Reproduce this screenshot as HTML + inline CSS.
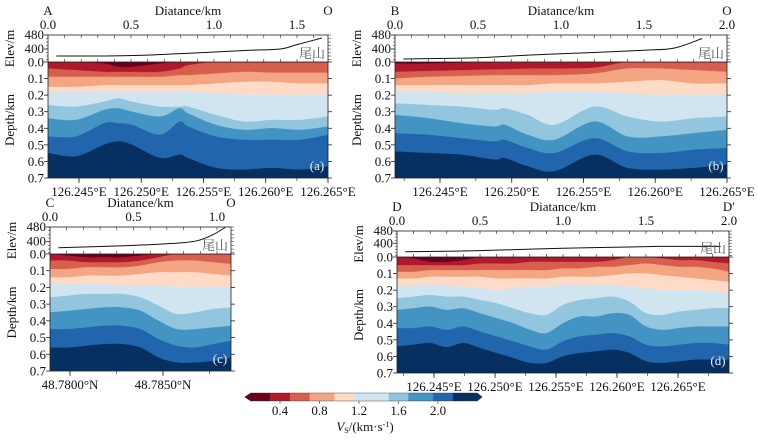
<!DOCTYPE html>
<html><head><meta charset="utf-8">
<style>
html,body{margin:0;padding:0;background:#fff;}
svg{display:block;}
svg text{font-family:"Liberation Serif","Noto Serif CJK SC",serif;}
</style></head>
<body>
<svg id="fig" width="757" height="440" viewBox="0 0 757 440" xmlns="http://www.w3.org/2000/svg" font-family="'Liberation Serif', 'Noto Serif CJK SC', serif"></svg>
<script>
// ---- colour levels (Vs km/s) ----
const levelBounds = [0.1,0.3,0.5,0.7,0.95,1.15,1.5,1.7,1.95,2.15,2.4];
const levelColors = ["#67001f","#b2182b","#d6604d","#f4a582","#fddbc7","#d1e5f0","#92c5de","#4393c3","#2166ac","#053061"];
const cbTicks = [0.4,0.8,1.2,1.6,2.0];

// ---- panel (a) ----
const aXs = [0,.1,.2,.25,.3,.4,.47,.5,.6,.7,.8,.9,1];
const aB1 = [0,0,.01,.03,.03,.01,0,0,0,0,0,0,0];
const aB2 = [.04,.05,.06,.06,.06,.06,.04,.02,0,0,0,0,0];
const aB3 = [.09,.09,.09,.09,.09,.09,.08,.08,.07,.06,.065,.065,.065];
const aB4 = [.15,.15,.14,.14,.14,.14,.14,.14,.13,.12,.12,.13,.13];
const aB5 = [.18,.18,.18,.18,.18,.18,.18,.18,.19,.2,.2,.2,.2];
const aB6 = [.26,.27,.24,.22,.24,.27,.27,.27,.32,.36,.35,.35,.33];
const aB7 = [.34,.35,.29,.28,.30,.33,.28,.31,.38,.41,.40,.41,.39];
const aB8 = [.45,.45,.37,.37,.38,.44,.36,.39,.45,.47,.47,.47,.44];
const aB9 = [.55,.57,.5,.48,.5,.58,.56,.58,.64,.65,.64,.65,.63];
const aElevDist = [0.05,0.3,0.6,0.9,1.2,1.4,1.5,1.65];
const aElev = [360,360,365,378,392,400,425,463];

// ---- panel (b) ----
const bXs = [0,.1,.2,.3,.33,.4,.48,.6,.7,.8,.9,1];
const bB1 = [.01,.01,.005,0,0,0,0,0,0,0,0,0];
const bB2 = [.06,.055,.05,.045,.045,.04,.04,.035,0,0,0,0];
const bB3 = [.1,.09,.085,.08,.08,.08,.08,.07,.04,.04,.05,.06];
const bB4 = [.14,.14,.14,.14,.14,.14,.13,.13,.12,.11,.13,.13];
const bB5 = [.18,.18,.19,.19,.19,.19,.18,.18,.19,.2,.2,.2];
const bB6 = [.25,.26,.27,.29,.28,.32,.38,.27,.33,.36,.34,.33];
const bB7 = [.32,.34,.37,.39,.38,.44,.47,.36,.45,.45,.43,.41];
const bB8 = [.43,.44,.46,.48,.47,.52,.55,.46,.54,.55,.53,.52];
const bB9 = [.54,.55,.56,.59,.58,.63,.66,.56,.64,.65,.64,.62];
const bElevDist = [0.05,0.5,0.8,1.2,1.5,1.68,1.85];
const bElev = [343,350,365,380,393,405,460];

// ---- panel (c) ----
const cXs = [0,.1,.2,.3,.4,.5,.6,.7,.8,.9,1];
const cB1 = [0,.01,.02,.02,.02,.01,0,0,0,0,0];
const cB2 = [.04,.04,.05,.05,.05,.04,.02,0,0,0,0];
const cB3 = [.09,.09,.08,.08,.08,.07,.05,.04,.04,.05,.06];
const cB4 = [.14,.14,.13,.13,.13,.12,.11,.11,.11,.12,.13];
const cB5 = [.18,.18,.18,.18,.19,.19,.19,.2,.2,.2,.2];
const cB6 = [.26,.25,.24,.24,.24,.26,.31,.36,.35,.33,.32];
const cB7 = [.35,.34,.33,.32,.32,.34,.40,.45,.45,.44,.43];
const cB8 = [.45,.45,.44,.43,.43,.45,.51,.55,.56,.54,.52];
const cB9 = [.56,.56,.55,.54,.54,.56,.62,.65,.65,.64,.62];
const cElevDist = [0.05,0.5,0.8,0.9,0.98,1.05];
const cElev = [367,380,395,410,440,478];

// ---- panel (d) ----
const dXs = [0,.05,.1,.15,.2,.25,.3,.35,.4,.45,.5,.55,.6,.65,.7,.75,.8,.85,.9,.95,1];
const dB1 = [0,.01,.03,.03,.02,0,0,0,0,0,0,0,0,0,0,0,0,0,0,0,0];
const dB2 = [.05,.05,.05,.05,.05,.04,.04,.04,.03,.03,.03,.03,.03,.02,0,0,.01,.02,.02,.03,.04];
const dB3 = [.09,.09,.08,.08,.08,.08,.08,.08,.08,.08,.07,.07,.06,.06,.05,.04,.05,.06,.06,.07,.09];
const dB4 = [.13,.13,.12,.12,.12,.12,.13,.13,.13,.13,.12,.12,.12,.11,.1,.1,.11,.12,.13,.14,.15];
const dB5 = [.18,.17,.17,.17,.18,.19,.2,.19,.18,.18,.17,.17,.17,.17,.18,.19,.2,.2,.2,.21,.22];
const dB6 = [.25,.24,.23,.24,.24,.26,.28,.31,.34,.35,.29,.26,.25,.24,.27,.34,.35,.33,.32,.31,.31];
const dB7 = [.32,.31,.30,.32,.31,.34,.37,.40,.44,.46,.40,.36,.36,.34,.35,.42,.44,.43,.42,.42,.42];
const dB8 = [.43,.43,.42,.44,.42,.45,.48,.51,.54,.56,.51,.48,.47,.46,.48,.53,.54,.53,.52,.52,.53];
const dB9 = [.54,.53,.52,.545,.52,.55,.58,.61,.64,.64,.6,.58,.57,.56,.58,.63,.64,.63,.62,.62,.62];
const dElevDist = [0.05,0.5,1.0,1.5,1.6,1.95];
const dElev = [345,352,368,378,380,380];

const lonTicks = [126.245,126.250,126.255,126.260,126.265];
const latTicks = [48.780,48.785];
const depthTicks = [0,0.1,0.2,0.3,0.4,0.5,0.6,0.7];

const NS="http://www.w3.org/2000/svg";
const svg=document.getElementById('fig');
const FF="'Liberation Serif', 'Noto Serif CJK SC', serif";
function mk(tag,attrs,parent){const e=document.createElementNS(NS,tag);for(const k in attrs)e.setAttribute(k,attrs[k]);(parent||svg).appendChild(e);return e;}
function txt(s,x,y,size,anchor,parent,fill){const t=mk('text',{x:x,y:y,'font-size':size,'font-family':FF,'text-anchor':anchor||'middle',fill:fill||'#111'},parent);t.textContent=s;return t;}

function smoothPath(pts){
  let d="M"+pts[0][0]+","+pts[0][1];
  for(let i=0;i<pts.length-1;i++){
    const p0=pts[Math.max(0,i-1)],p1=pts[i],p2=pts[i+1],p3=pts[Math.min(pts.length-1,i+2)];
    const c1=[p1[0]+(p2[0]-p0[0])/6,p1[1]+(p2[1]-p0[1])/6];
    const c2=[p2[0]-(p3[0]-p1[0])/6,p2[1]-(p3[1]-p1[1])/6];
    d+=" C"+c1[0]+","+c1[1]+" "+c2[0]+","+c2[1]+" "+p2[0]+","+p2[1];
  }
  return d;
}

const panels=[
 {id:'a',x0:48,x1:328,eTop:35,e400:49,mTop:62,mBot:178,dMax:1.687,dTicks:[0,0.5,1.0,1.5],L:'A',R:'O',xs:aXs,bs:[aB1,aB2,aB3,aB4,aB5,aB6,aB7,aB8,aB9],ed:aElevDist,ev:aElev,geo:lonTicks,g0:126.245,gx0:79,g1:126.265,gx1:328,suf:'°E',dec:3},
 {id:'b',x0:395,x1:727,eTop:35,e400:49,mTop:62,mBot:178,dMax:2.0,dTicks:[0,0.5,1.0,1.5,2.0],L:'B',R:'O',xs:bXs,bs:[bB1,bB2,bB3,bB4,bB5,bB6,bB7,bB8,bB9],ed:bElevDist,ev:bElev,geo:lonTicks,g0:126.245,gx0:440,g1:126.265,gx1:727,suf:'°E',dec:3},
 {id:'c',x0:50,x1:231,eTop:227,e400:241.7,mTop:254,mBot:371,dMax:1.084,dTicks:[0,0.5,1.0],L:'C',R:'O',xs:cXs,bs:[cB1,cB2,cB3,cB4,cB5,cB6,cB7,cB8,cB9],ed:cElevDist,ev:cElev,geo:latTicks,g0:48.780,gx0:70,g1:48.785,gx1:163,suf:'°N',dec:4},
 {id:'d',x0:397,x1:729,eTop:231,e400:243.3,mTop:257,mBot:373,dMax:2.0,dTicks:[0,0.5,1.0,1.5,2.0],L:'D',R:'D′',xs:dXs,bs:[dB1,dB2,dB3,dB4,dB5,dB6,dB7,dB8,dB9],ed:dElevDist,ev:dElev,geo:lonTicks,g0:126.245,gx0:434,g1:126.265,gx1:678,suf:'°E',dec:3}
];

panels.forEach(p=>{
  const g=mk('g',{});
  
  
  const W=p.x1-p.x0;
  const fx=f=>p.x0+f*W;
  const dy=d=>p.mTop+Math.max(0,Math.min(0.7,d))/0.7*(p.mBot-p.mTop);
  const distX=k=>p.x0+k/p.dMax*W;
  const ey=e=>p.eTop+(480-e)*(p.e400-p.eTop)/80;
  const geoX=v=>p.gx0+(v-p.g0)/(p.g1-p.g0)*(p.gx1-p.gx0);

  const cp=mk('clipPath',{id:'clip-'+p.id},g);
  mk('rect',{x:p.x0,y:p.mTop,width:W,height:p.mBot-p.mTop},cp);
  const mg=mk('g',{'clip-path':'url(#clip-'+p.id+')'},g);
  
  
  const bg=mk('rect',{x:p.x0,y:p.mTop,width:W,height:p.mBot-p.mTop,fill:levelColors[0]},mg);
  
  
  p.bs.forEach((b,k)=>{
    const pts=p.xs.map((f,i)=>[fx(f),dy(b[i])]);
    let d=smoothPath(pts)+" L"+(p.x1+2)+","+pts[pts.length-1][1]+" L"+(p.x1+2)+","+(p.mBot+2)+" L"+(p.x0-2)+","+(p.mBot+2)+" L"+(p.x0-2)+","+pts[0][1]+" Z";
    const path=mk('path',{d:d,fill:levelColors[k+1],stroke:levelColors[k+1],'stroke-width':0.3},mg);
    
    
  });
  mk('rect',{x:p.x0,y:p.mTop,width:W,height:p.mBot-p.mTop,fill:'none',stroke:'#222','stroke-width':0.8},g);
  const eb=mk('rect',{x:p.x0,y:p.eTop,width:W,height:p.mTop-p.eTop,fill:'#fff',stroke:'#222','stroke-width':0.8},g);
  
  
  const el=mk('path',{d:smoothPath(p.ed.map((k,i)=>[distX(k),ey(p.ev[i])])),fill:'none',stroke:'#111','stroke-width':1},g);
  
  
  const ws=txt('尾山',p.x1-3,p.mTop-4,13,'end',g,'#555');
  
  
  [480,400].forEach(e=>{
    mk('line',{x1:p.x0-4,y1:ey(e),x2:p.x0,y2:ey(e),stroke:'#222','stroke-width':0.8},g);
    const t=txt(String(e),p.x0-4,ey(e)+4,13,'end',g);
    
    
  });
  for(let e=480;;e-=20){const y=ey(e);if(y>p.mTop)break;mk('line',{x1:p.x0-2,y1:y,x2:p.x0,y2:y,stroke:'#222','stroke-width':0.5},g);mk('line',{x1:p.x1,y1:y,x2:p.x1+3,y2:y,stroke:'#222','stroke-width':0.5},g);}
  for(let k=0;k<=p.dMax+1e-6;k+=0.1){const x=distX(k);mk('line',{x1:x,y1:p.eTop,x2:x,y2:p.eTop+3,stroke:'#222','stroke-width':0.6},g);mk('line',{x1:x,y1:p.mTop-3,x2:x,y2:p.mTop,stroke:'#222','stroke-width':0.6},g);}
  p.dTicks.forEach(k=>{
    const t=txt(k.toFixed(1),distX(k),p.eTop-6,13,'middle',g);
    
    
  });
  const dt=txt('Diatance/km',(p.x0+p.x1)/2,p.eTop-20,13,'middle',g);
  
  
  const lt=txt(p.L,p.x0,p.eTop-20,13,'middle',g);
  
  
  const rt=txt(p.R,p.x1,p.eTop-20,13,'middle',g);
  
  
  depthTicks.forEach(d=>{
    const y=dy(d);
    mk('line',{x1:p.x0-4,y1:y,x2:p.x0,y2:y,stroke:'#222','stroke-width':0.8},g);
    mk('line',{x1:p.x1,y1:y,x2:p.x1+4,y2:y,stroke:'#222','stroke-width':0.8},g);
    const t=txt(d.toFixed(1),p.x0-4,y+4.5,13,'end',g);
    
    
  });
  const ya=txt('Depth/km',0,0,13,'middle',g);
  ya.setAttribute('transform','translate('+(p.x0-34)+','+((p.mTop+p.mBot)/2)+') rotate(-90)');
  
  
  const ea=txt('Elev/m',0,0,13,'middle',g);
  ea.setAttribute('transform','translate('+(p.x0-34)+','+((p.eTop+p.mTop)/2)+') rotate(-90)');
  
  
  p.geo.forEach(v=>{
    const x=geoX(v);
    mk('line',{x1:x,y1:p.mBot,x2:x,y2:p.mBot+5,stroke:'#222','stroke-width':0.8},g);
    const t=txt(v.toFixed(p.dec)+p.suf,x,p.mBot+18,13,'middle',g);
    
    
  });
  const minor=(p.g1-p.g0)/ (p.geo.length>2?(p.geo.length-1)*2:2);
  for(let v=p.g0-10*minor;v<=p.g1+10*minor;v+=minor){const x=geoX(v);if(x>=p.x0&&x<=p.x1)mk('line',{x1:x,y1:p.mBot,x2:x,y2:p.mBot+3,stroke:'#222','stroke-width':0.6},g);}
  const pl=txt('('+p.id+')',p.x1-11,p.mBot-8,13,'middle',g,'#eef');
  
  
});

const cb=mk('g',{});


const cbX=v=>280+(v-0.4)*98.75;
const cy0=393,cy1=401;
for(let i=0;i<levelColors.length;i++){
  const x0=cbX(levelBounds[i]),x1=cbX(levelBounds[i+1]);
  const r=mk('rect',{x:x0,y:cy0,width:x1-x0+0.3,height:cy1-cy0,fill:levelColors[i]},cb);
  
  
}
mk('polygon',{points:cbX(levelBounds[0])+","+cy0+" "+(cbX(levelBounds[0])-6)+","+((cy0+cy1)/2)+" "+cbX(levelBounds[0])+","+cy1,fill:levelColors[0]},cb);
const xe=cbX(levelBounds[levelBounds.length-1]);
mk('polygon',{points:xe+","+cy0+" "+(xe+5)+","+((cy0+cy1)/2)+" "+xe+","+cy1,fill:levelColors[9]},cb);
mk('rect',{x:cbX(levelBounds[0]),y:cy0,width:xe-cbX(levelBounds[0]),height:cy1-cy0,fill:'none',stroke:'#333','stroke-width':0.4},cb);
cbTicks.forEach(v=>{
  mk('line',{x1:cbX(v),y1:cy1,x2:cbX(v),y2:cy1+3,stroke:'#333','stroke-width':0.6},cb);
  const t=txt(v.toFixed(1),cbX(v),cy1+14,13,'middle',cb);
  
  
});
const ct=mk('text',{x:365,y:431,'font-size':13,'font-family':FF,'text-anchor':'middle',fill:'#111'},cb);


ct.innerHTML='<tspan font-style="italic">V</tspan><tspan font-size="8" dy="2">S</tspan><tspan dy="-2">/(km·s</tspan><tspan font-size="8" dy="-4">-1</tspan><tspan dy="4">)</tspan>';
</script>
</body></html>
